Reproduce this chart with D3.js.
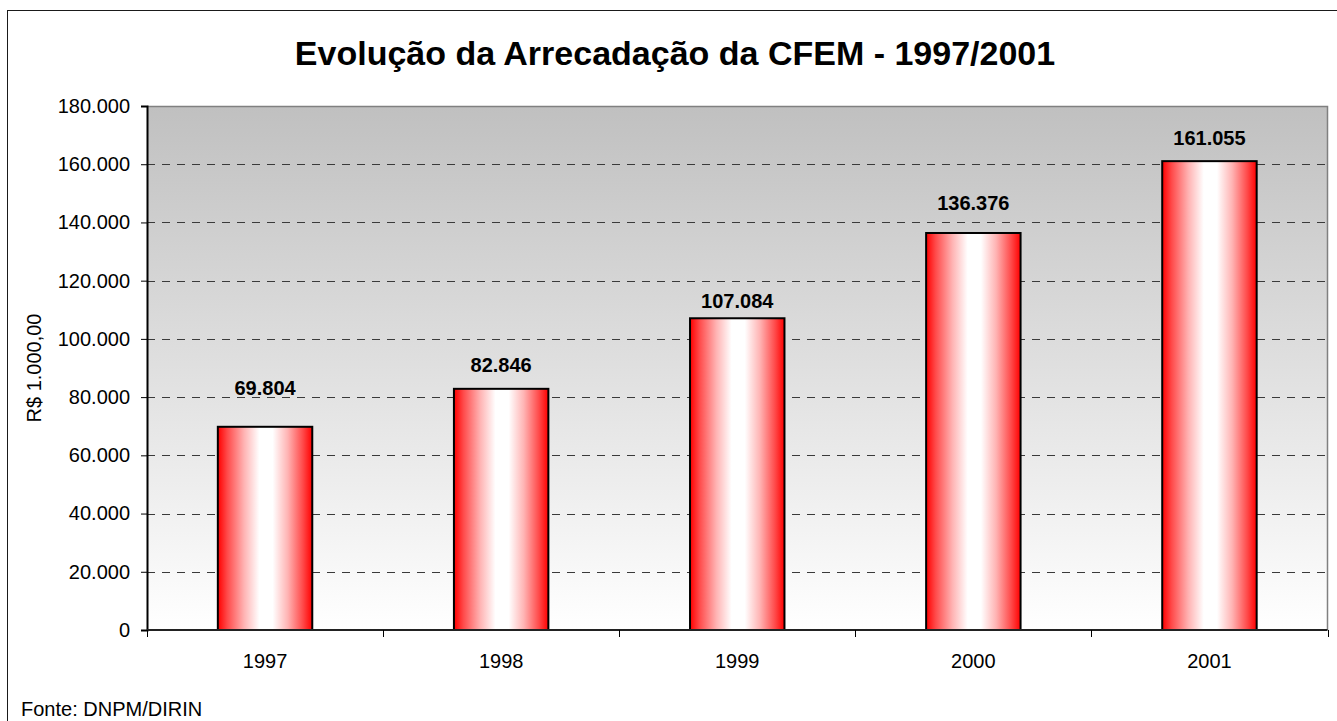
<!DOCTYPE html>
<html>
<head>
<meta charset="utf-8">
<script src="https://cdn.jsdelivr.net/npm/d3@7"></script>
<style>
  html, body { margin: 0; padding: 0; background: #ffffff; }
  svg { display: block; font-family: "Liberation Sans", Arial, Helvetica, sans-serif; }
</style>
</head>
<body>
<svg id="chart" width="1337" height="721"></svg>
<script>
// ---- data ----
const years = ["1997", "1998", "1999", "2000", "2001"];
const values = [69804, 82846, 107084, 136376, 161055];
const valueLabels = ["69.804", "82.846", "107.084", "136.376", "161.055"];
const yTickValues = [0, 20000, 40000, 60000, 80000, 100000, 120000, 140000, 160000, 180000];
const yTickLabels = ["0", "20.000", "40.000", "60.000", "80.000", "100.000", "120.000", "140.000", "160.000", "180.000"];
const titleText = "Evolução da Arrecadação da CFEM - 1997/2001";
const yAxisTitle = "R$ 1.000,00";
const sourceText = "Fonte: DNPM/DIRIN";

// ---- layout (not data) ----
const labelLift = [32, 16.5, 10, 23, 16]; // px gap between bar top and label baseline
const plot = { left: 147, right: 1327.5, top: 106, bottom: 630 };

const svg = d3.select("#chart");

// outer frame
svg.append("rect")
  .attr("x", 7.5).attr("y", 10.5)
  .attr("width", 1345).attr("height", 730)
  .attr("fill", "#ffffff").attr("stroke", "#1a1a1a").attr("stroke-width", 1);

const defs = svg.append("defs");
const bg = defs.append("linearGradient").attr("id", "bgGrad")
  .attr("x1", 0).attr("y1", 0).attr("x2", 0).attr("y2", 1);
bg.append("stop").attr("offset", "0%").attr("stop-color", "#c0c0c0");
bg.append("stop").attr("offset", "100%").attr("stop-color", "#ffffff");

const barGrad = defs.append("linearGradient").attr("id", "barGrad")
  .attr("x1", 0).attr("y1", 0).attr("x2", 1).attr("y2", 0);
[["0%", "#ff0000"], ["10%", "#ff4a4a"], ["28%", "#ffb4b4"], ["44%", "#ffffff"],
 ["58%", "#ffffff"], ["74%", "#ffb4b4"], ["90%", "#ff4a4a"], ["100%", "#ff0000"]]
  .forEach(s => barGrad.append("stop").attr("offset", s[0]).attr("stop-color", s[1]));

const x = d3.scaleBand().domain(years)
  .range([plot.left, plot.right])
  .paddingInner(0.6).paddingOuter(0.3);
const y = d3.scaleLinear().domain([0, 180000]).range([plot.bottom, plot.top]);

// plot background
svg.append("rect")
  .attr("x", plot.left).attr("y", plot.top)
  .attr("width", plot.right - plot.left).attr("height", plot.bottom - plot.top)
  .attr("fill", "url(#bgGrad)");

// gridlines
svg.append("g").selectAll("line")
  .data(yTickValues.filter(v => v > 0 && v < 180000))
  .join("line")
  .attr("x1", plot.left).attr("x2", plot.right)
  .attr("y1", d => Math.round(y(d)) + 0.5).attr("y2", d => Math.round(y(d)) + 0.5)
  .attr("stroke", "#3a3a3a").attr("stroke-width", 1)
  .attr("stroke-dasharray", "8,7");

// plot top/right border
svg.append("path")
  .attr("d", `M${plot.left},${plot.top + 0.5}H${plot.right}V${plot.bottom}`)
  .attr("fill", "none").attr("stroke", "#808080").attr("stroke-width", 1.5);

// bars
svg.append("g").selectAll("rect")
  .data(years.map((yr, i) => ({ yr, v: values[i] })))
  .join("rect")
  .attr("x", d => x(d.yr))
  .attr("y", d => y(d.v))
  .attr("width", x.bandwidth())
  .attr("height", d => y(0) - y(d.v))
  .attr("fill", "url(#barGrad)")
  .attr("stroke", "#000").attr("stroke-width", 2);

// value labels
svg.append("g").selectAll("text")
  .data(years.map((yr, i) => ({ yr, v: values[i], t: valueLabels[i], lift: labelLift[i] })))
  .join("text")
  .attr("x", d => x(d.yr) + x.bandwidth() / 2)
  .attr("y", d => y(d.v) - d.lift)
  .attr("text-anchor", "middle")
  .attr("font-size", 20).attr("font-weight", "bold").attr("fill", "#000")
  .text(d => d.t);

// y axis
const yAxis = d3.axisLeft(y).tickValues(yTickValues)
  .tickFormat((d, i) => yTickLabels[i]).tickSize(6).tickPadding(11);
const yg = svg.append("g").attr("transform", `translate(${plot.left},0)`).call(yAxis);
yg.select(".domain").attr("stroke", "#000").attr("stroke-width", 2);
yg.selectAll(".tick line").attr("stroke", "#000");
yg.selectAll(".tick text").attr("font-size", 20).attr("fill", "#000")
  .attr("font-family", "'Liberation Sans', Arial, sans-serif");

// x axis with boundary ticks
const xg = svg.append("g").attr("transform", `translate(0,${plot.bottom})`);
xg.append("line").attr("x1", plot.left).attr("x2", plot.right)
  .attr("y1", 0).attr("y2", 0).attr("stroke", "#222").attr("stroke-width", 2);
const step = x.step();
const boundaries = d3.range(years.length + 1).map(i => plot.left + i * step);
xg.selectAll("line.tick").data(boundaries).join("line")
  .attr("class", "tick")
  .attr("x1", d => Math.round(d) + 0.5).attr("x2", d => Math.round(d) + 0.5)
  .attr("y1", 0).attr("y2", 7).attr("stroke", "#000");
xg.selectAll("text").data(years).join("text")
  .attr("x", d => x(d) + x.bandwidth() / 2)
  .attr("y", 38)
  .attr("text-anchor", "middle").attr("font-size", 20).attr("fill", "#000")
  .text(d => d);

// title
svg.append("text")
  .attr("x", 675).attr("y", 65)
  .attr("text-anchor", "middle")
  .attr("font-size", 34).attr("font-weight", "bold").attr("fill", "#000")
  .text(titleText);

// y-axis title
svg.append("text")
  .attr("transform", `translate(41,${(plot.top + plot.bottom) / 2}) rotate(-90)`)
  .attr("text-anchor", "middle").attr("font-size", 20).attr("fill", "#000")
  .text(yAxisTitle);

// source
svg.append("text")
  .attr("x", 21).attr("y", 716)
  .attr("font-size", 20).attr("fill", "#000")
  .text(sourceText);
</script>
</body>
</html>
